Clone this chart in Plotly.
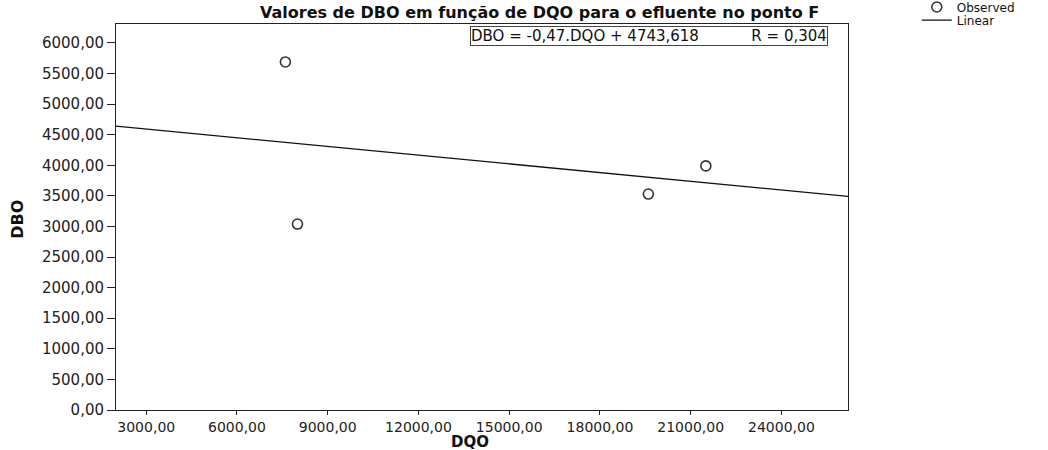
import numpy as np
import plotly.graph_objects as go

# Observed DQO / DBO pairs for the effluent at point F
dqo = [7600, 8000, 19600, 21500]
dbo = [5690, 3040, 3530, 3990]

x_ticks = [3000, 6000, 9000, 12000, 15000, 18000, 21000, 24000]
y_ticks = [0, 500, 1000, 1500, 2000, 2500, 3000, 3500, 4000, 4500, 5000, 5500, 6000]

x_range = [2000, 26200]
y_range = [0, 6310]

title_text = "Valores de DBO em função de DQO para o efluente no ponto F"
equation_text = "DBO = -0,47.DQO + 4743,618" + "\u00a0" * 11 + "R = 0,304"

# Least-squares line across the whole DQO axis
slope, intercept = np.polyfit(dqo, dbo, 1)
fit_x = np.array(x_range, dtype=float)
fit_y = slope * fit_x + intercept

FONT = "DejaVu Sans"

fig = go.Figure()
fig.add_trace(go.Scatter(
    x=dqo, y=dbo, mode="markers", name="Observed", legend="legend",
    marker=dict(symbol="circle-open", size=10, color="#333333", line=dict(width=1.6)),
))
fig.add_trace(go.Scatter(
    x=fit_x, y=fit_y, mode="lines", name="Linear", legend="legend2",
    line=dict(color="#111111", width=1.3),
))

axis_common = dict(
    showgrid=False, zeroline=False, showline=True, linecolor="#222222", linewidth=1,
    mirror=True, ticks="outside", tickcolor="#222222", automargin=False,
    tickformat=".2f",
)

legend_common = dict(
    xanchor="left", yanchor="middle", font=dict(family=FONT, size=12, color="#111111"),
    itemwidth=30, bgcolor="rgba(0,0,0,0)", borderwidth=0,
)

fig.update_layout(
    width=1048, height=450,
    margin=dict(l=116, r=200, t=24, b=40, autoexpand=False),
    paper_bgcolor="white", plot_bgcolor="white",
    separators=",.",
    font=dict(family=FONT, color="#111111"),
    xaxis=dict(range=x_range, tickvals=x_ticks, ticklen=4, **axis_common,
               tickfont=dict(family=FONT, size=14, color="#222222")),
    yaxis=dict(range=y_range, tickvals=y_ticks, ticklen=8, **axis_common,
               tickfont=dict(family=FONT, size=15, color="#222222")),
    legend=dict(x=1.094, y=1.044, **legend_common),
    legend2=dict(x=1.094, y=1.010, **legend_common),
    showlegend=True,
)

# Chart title
fig.add_annotation(
    text="<b>" + title_text + "</b>", xref="paper", yref="paper",
    x=0.579, y=1.031, xanchor="center", yanchor="middle", showarrow=False,
    font=dict(family=FONT, size=16, color="#111111"),
)
# Axis titles
fig.add_annotation(
    text="<b>DQO</b>", xref="paper", yref="paper",
    x=0.484, y=-0.084, xanchor="center", yanchor="middle", showarrow=False,
    font=dict(family=FONT, size=15, color="#111111"),
)
fig.add_annotation(
    text="<b>DBO</b>", xref="paper", yref="paper", textangle=-90,
    x=-0.134, y=0.495, xanchor="center", yanchor="middle", showarrow=False,
    font=dict(family=FONT, size=16, color="#111111"),
)
# Regression equation box
fig.add_annotation(
    text=equation_text, xref="paper", yref="paper",
    x=0.9727, y=0.969, xanchor="right", yanchor="middle", showarrow=False,
    font=dict(family=FONT, size=15, color="#111111"),
    bordercolor="#444444", borderwidth=1, borderpad=0, bgcolor="white",
)

fig.write_html("out.html")
